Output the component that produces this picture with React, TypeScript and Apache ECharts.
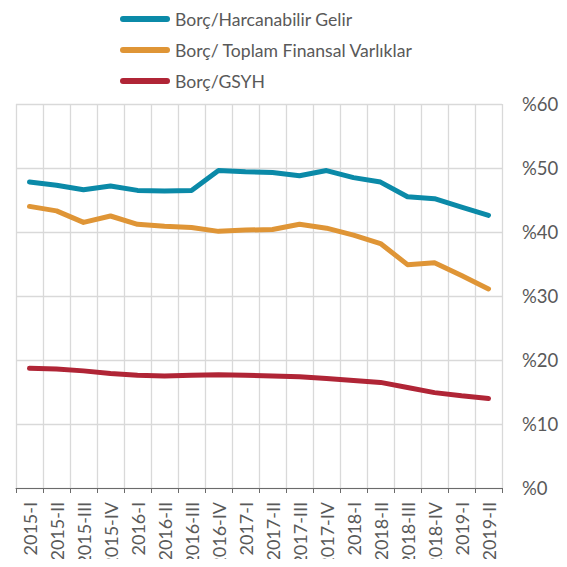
import React, { useEffect, useRef } from "react";
import * as echarts from "echarts";

const categories = [
  "2015-I", "2015-II", "2015-III", "2015-IV",
  "2016-I", "2016-II", "2016-III", "2016-IV",
  "2017-I", "2017-II", "2017-III", "2017-IV",
  "2018-I", "2018-II", "2018-III", "2018-IV",
  "2019-I", "2019-II",
];

const harcanabilirGelir = [47.8, 47.3, 46.6, 47.2, 46.5, 46.4, 46.5, 49.6, 49.4, 49.3, 48.8, 49.6, 48.5, 47.8, 45.5, 45.2, 43.9, 42.6];
const finansalVarliklar = [44.0, 43.3, 41.5, 42.5, 41.2, 40.9, 40.7, 40.1, 40.3, 40.4, 41.2, 40.6, 39.5, 38.2, 34.9, 35.2, 33.2, 31.1];
const gsyh = [18.7, 18.6, 18.3, 17.9, 17.6, 17.5, 17.6, 17.7, 17.6, 17.5, 17.4, 17.1, 16.8, 16.5, 15.7, 14.9, 14.4, 14.0];

const seriesNames = ["Borç/Harcanabilir Gelir", "Borç/ Toplam Finansal Varlıklar", "Borç/GSYH"];
const colors = ["#0B8AA8", "#DF9536", "#B02536"];

const FONT = "Lato, 'Open Sans', sans-serif";
const TEXT = "#595959";
const legendIcon = "path://M3,0 L47,0 A3,3 0 0 1 47,6 L3,6 A3,3 0 0 1 3,0 Z";

export default function App() {
  const ref = useRef<HTMLDivElement>(null);
  useEffect(() => {
    if (!ref.current) return;
    const chart = echarts.init(ref.current, undefined, { renderer: "svg" });
    const data = [harcanabilirGelir, finansalVarliklar, gsyh];
    chart.setOption({
      animation: false,
      backgroundColor: "#ffffff",
      textStyle: { fontFamily: FONT },
      legend: {
        orient: "vertical",
        left: 115,
        top: 5,
        itemWidth: 50,
        itemHeight: 6,
        itemGap: 13,
        icon: legendIcon,
        textStyle: { fontSize: 17.6, color: TEXT, fontFamily: FONT },
        data: seriesNames,
      },
      grid: { left: 16, right: 65, top: 104, bottom: 79, containLabel: false, outerBoundsMode: "none" },
      xAxis: {
        type: "category",
        data: categories,
        boundaryGap: true,
        axisLine: { show: true, lineStyle: { color: "#6b6b6b", width: 1 } },
        axisTick: { show: true, length: 5, interval: 0, lineStyle: { color: "#6b6b6b" } },
        axisLabel: { interval: 0, rotate: 90, fontSize: 18, color: TEXT, fontFamily: FONT, margin: 14 },
        splitLine: { show: true, interval: 0, lineStyle: { color: "#d9d9d9", width: 1.3 } },
      },
      yAxis: {
        type: "value",
        position: "right",
        min: 0,
        max: 60,
        interval: 10,
        axisLine: { show: false },
        axisTick: { show: false },
        axisLabel: { formatter: "%{value}", fontSize: 18.5, color: TEXT, fontFamily: FONT, margin: 20 },
        splitLine: { show: true, lineStyle: { color: "#d9d9d9", width: 1.3 } },
      },
      series: seriesNames.map((name, i) => ({
        name,
        type: "line",
        data: data[i],
        symbol: "none",
        color: colors[i],
        lineStyle: { width: 5, color: colors[i], cap: "round", join: "round" },
      })),
    });
    return () => chart.dispose();
  }, []);
  return <div ref={ref} style={{ width: 567, height: 567, margin: -8 }} />;
}
